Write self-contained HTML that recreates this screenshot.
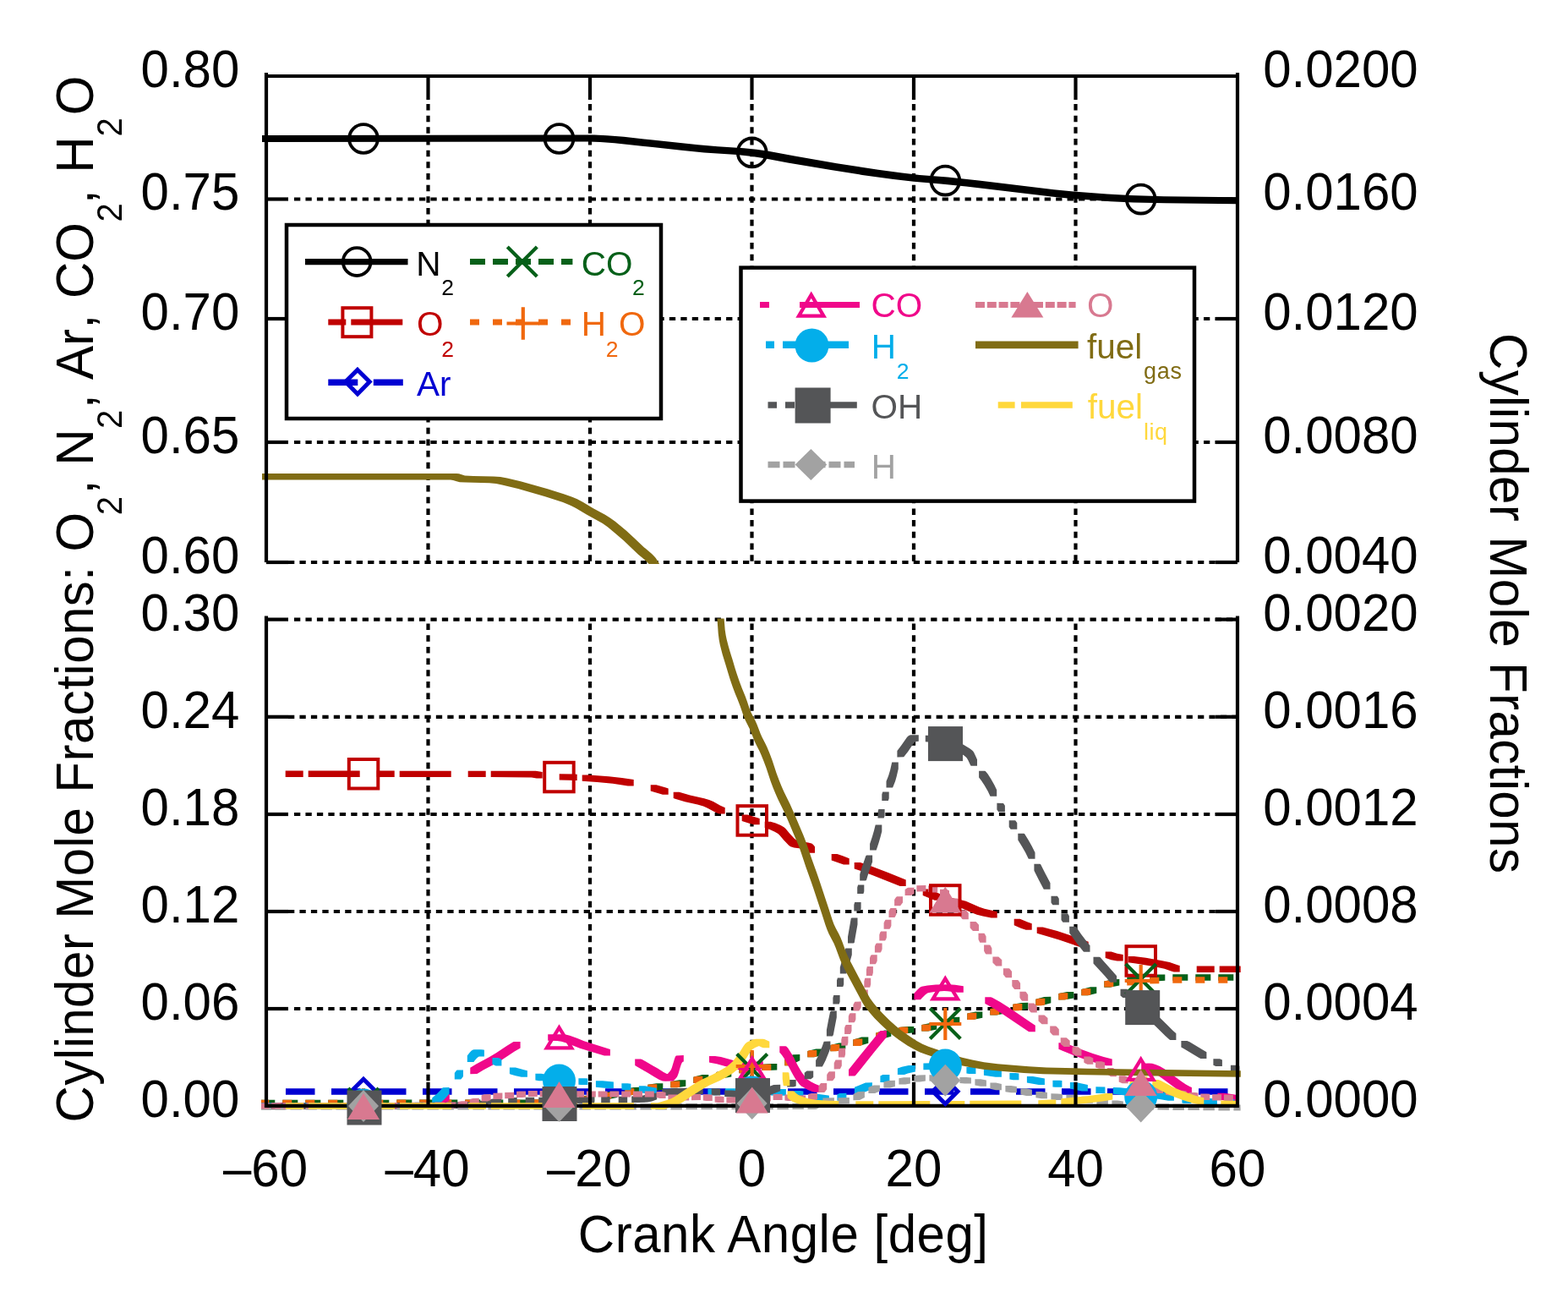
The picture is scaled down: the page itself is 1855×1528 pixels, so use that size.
<!DOCTYPE html><html><head><meta charset="utf-8"><title>Cylinder Mole Fractions</title><style>html,body{margin:0;padding:0;background:#fff;overflow:hidden}svg{display:block}</style></head><body><svg width="1855" height="1528" viewBox="0 0 1855 1528" font-family="'Liberation Sans', Arial, Helvetica, sans-serif">
<rect width="1855" height="1528" fill="#fff"/>
<defs><clipPath id="ctop"><rect x="310.0" y="90.0" width="1154.0" height="577.0"/></clipPath><clipPath id="cbot"><rect x="309.0" y="731.6" width="1161.0" height="587.1999999999999"/></clipPath></defs>
<line x1="348" y1="235.5" x2="1462.0" y2="235.5" stroke="#000" stroke-width="4.2" stroke-dasharray="7.3 6.15"/>
<line x1="348" y1="377.0" x2="1462.0" y2="377.0" stroke="#000" stroke-width="4.2" stroke-dasharray="7.3 6.15"/>
<line x1="348" y1="523.0" x2="1462.0" y2="523.0" stroke="#000" stroke-width="4.2" stroke-dasharray="7.3 6.15"/>
<line x1="341" y1="665.0" x2="1462.0" y2="665.0" stroke="#000" stroke-width="4.2" stroke-dasharray="7.3 6.15"/>
<line x1="348" y1="732.6" x2="1462.0" y2="732.6" stroke="#000" stroke-width="4.2" stroke-dasharray="7.3 6.15"/>
<line x1="341" y1="847.8" x2="1462.0" y2="847.8" stroke="#000" stroke-width="4.2" stroke-dasharray="7.3 6.15"/>
<line x1="348" y1="963.0" x2="1462.0" y2="963.0" stroke="#000" stroke-width="4.2" stroke-dasharray="7.3 6.15"/>
<line x1="341" y1="1078.0" x2="1462.0" y2="1078.0" stroke="#000" stroke-width="4.2" stroke-dasharray="7.3 6.15"/>
<line x1="348" y1="1193.0" x2="1462.0" y2="1193.0" stroke="#000" stroke-width="4.2" stroke-dasharray="7.3 6.15"/>
<line x1="506.5" y1="123" x2="506.5" y2="665.0" stroke="#000" stroke-width="4.2" stroke-dasharray="7.5 6.17"/>
<line x1="506.5" y1="737.6" x2="506.5" y2="1279.8" stroke="#000" stroke-width="4.2" stroke-dasharray="7.5 6.17"/>
<line x1="698.0" y1="123" x2="698.0" y2="665.0" stroke="#000" stroke-width="4.2" stroke-dasharray="7.5 6.17"/>
<line x1="698.0" y1="737.6" x2="698.0" y2="1279.8" stroke="#000" stroke-width="4.2" stroke-dasharray="7.5 6.17"/>
<line x1="889.5" y1="123" x2="889.5" y2="665.0" stroke="#000" stroke-width="4.2" stroke-dasharray="7.5 6.17"/>
<line x1="889.5" y1="737.6" x2="889.5" y2="1279.8" stroke="#000" stroke-width="4.2" stroke-dasharray="7.5 6.17"/>
<line x1="1081.0" y1="123" x2="1081.0" y2="665.0" stroke="#000" stroke-width="4.2" stroke-dasharray="7.5 6.17"/>
<line x1="1081.0" y1="737.6" x2="1081.0" y2="1279.8" stroke="#000" stroke-width="4.2" stroke-dasharray="7.5 6.17"/>
<line x1="1272.5" y1="123" x2="1272.5" y2="665.0" stroke="#000" stroke-width="4.2" stroke-dasharray="7.5 6.17"/>
<line x1="1272.5" y1="737.6" x2="1272.5" y2="1279.8" stroke="#000" stroke-width="4.2" stroke-dasharray="7.5 6.17"/>
<path d="M307.1,160.1 661,159.6 703,159.6 718,160.2 738,161.8 772,165.5 826,171.3 849,173.2 880,175.3 895,176.7 909,178.8 940,184.6 990,193.2 1039,200.7 1067,204.6 1088,206.9 1121,209.6 1158,213.6 1246.9,224.2 1269.9,226.6 1309.9,229.6 1336.9,231.1 1376.9,232.2 1467.9,233.4 1467.9,241.2 1378.9,240.2 1340.9,239.4 1313.9,238.2 1267.9,234.9 1243.9,232.6 1143,220.6 1113,217.4 1081,214.8 1057,212.1 1020,206.9 983,201.1 932,192.4 903,186.9 890,184.9 872,183.1 833,180.4 806,177.8 772,174 727,169.3 710,167.9 696,167.4 315.1,167.9 307.1,167.9Z" fill="#000000" clip-path="url(#ctop)"/>
<path d="M337.7,911.6 358.7,911.6 358.7,919 337.7,919ZM364.7,911.6 425.7,911.6 425.7,919 364.7,919ZM445.7,911.6 466.7,911.6 466.7,919 445.7,919ZM472.7,911.7 533.7,911.7 533.7,919.1 472.7,919.1ZM553.7,911.7 574.7,911.7 574.7,919.1 553.7,919.1ZM580.7,911.7 633.8,911.8 638.7,912.4 641.7,913 641.7,920.4 634.8,920.4 628.9,919.4 580.7,919.1ZM661.7,915.2 679.8,915.6 682.7,915.7 682.7,923.1 661.7,922.6ZM688.7,916.4 696.6,916.5 720.2,918.2 735.9,919.9 749.7,922 749.7,929.4 742.8,929.4 725.1,926.8 706.4,925 688.7,923.8ZM769.7,928.2 776.4,928.2 786.9,931.2 790.7,932.4 790.7,939.8 784,939.8 769.7,935.6ZM796.7,936.7 803.6,936.7 816.4,940.5 833.1,944.2 839,945.9 843.9,948.1 851.8,952.5 856.7,954.7 857.7,955 857.7,962.4 850.8,962.4 846.9,961.1 836.1,955.3 832.1,953.5 825.2,951.5 810.5,948.3 798.7,944.7 796.7,944.1ZM877.7,963.5 884.4,963.5 898.7,967.9 898.7,975.3 892,975.3 886.3,973.8 877.7,970.9ZM904.7,971.7 911.6,971.7 917.6,973.5 923.5,976.1 927.4,978.3 929.4,980.1 934.4,985.9 939.3,991.2 941.3,993 943.3,994 948.2,995.3 956.1,996.5 960.1,997.6 961,998.1 963,1000.1 964,1001.4 964,1008.8 957.1,1008.8 956.1,1008.1 954.1,1005.9 952.2,1004.8 947.2,1003.6 939.3,1002.4 935.3,1001.2 933.4,1000 927.4,993.8 922.5,988 920.5,986.1 916.6,983.7 910.6,981.1 904.7,979.1ZM983.7,1010.1 990.4,1010.1 997.1,1012.3 1004.7,1015.2 1004.7,1022.6 998,1022.6 983.7,1017.5ZM1010.7,1020.1 1017.7,1020.1 1029.7,1024 1050.7,1032.1 1071.7,1040.5 1071.7,1047.9 1064.7,1047.9 1030.7,1034.5 1017.7,1029.8 1010.7,1027.5ZM1091.7,1051.5 1098.7,1051.5 1105.7,1054.3 1112.7,1057.4 1112.7,1064.8 1105.7,1064.8 1091.7,1058.9ZM1118.7,1062 1125.7,1062 1136.7,1064.2 1142.7,1065.8 1158.7,1072.7 1164.7,1074.8 1175.7,1077.3 1179.7,1078.1 1179.7,1085.5 1172.7,1085.5 1162.7,1083.5 1155.7,1081.7 1148.7,1079 1138.7,1074.6 1133.7,1072.7 1124.7,1070.6 1118.7,1069.4ZM1199.7,1086.8 1206.7,1086.8 1215.7,1090.6 1220.7,1092.3 1220.7,1099.7 1213.7,1099.7 1207.7,1097.7 1199.7,1094.2ZM1226.7,1096.4 1233.7,1096.4 1250.7,1101.1 1271.7,1108 1287.7,1113.7 1287.7,1121.1 1280.7,1121.1 1253.7,1111.8 1238.7,1107.2 1226.7,1103.8ZM1307.7,1125.5 1314.7,1125.5 1321.7,1127.7 1328.7,1129.1 1328.7,1136.5 1321.7,1136.5 1314.7,1135.2 1308.7,1133.3 1307.7,1132.9ZM1334.7,1130.9 1341.7,1130.9 1355.7,1132.8 1373.7,1135.9 1383.7,1138 1393.7,1141.4 1395.7,1142 1395.7,1149.4 1388.7,1149.4 1384.7,1148.3 1377.7,1145.7 1364.7,1143 1343.7,1139.5 1334.7,1138.3ZM1415.7,1142.5 1436.7,1142.5 1436.7,1149.9 1415.7,1149.9ZM1442.7,1142.5 1467.7,1142.5 1467.7,1149.9 1442.7,1149.9Z" fill="#c00000" clip-path="url(#cbot)"/>
<path d="M338,1287.2 372.5,1287.2 372.5,1294.8 338,1294.8ZM392,1287.2 426.5,1287.2 426.5,1294.8 392,1294.8ZM446,1287.2 480.5,1287.2 480.5,1294.8 446,1294.8ZM500,1287.2 534.5,1287.2 534.5,1294.8 500,1294.8ZM554,1287.2 588.5,1287.2 588.5,1294.8 554,1294.8ZM608,1287.2 642.5,1287.2 642.5,1294.8 608,1294.8ZM662,1287.2 696.5,1287.2 696.5,1294.8 662,1294.8ZM716,1287.2 750.5,1287.2 750.5,1294.8 716,1294.8ZM770,1287.2 804.5,1287.2 804.5,1294.8 770,1294.8ZM824,1287.2 858.5,1287.2 858.5,1294.8 824,1294.8ZM878,1287.2 912.5,1287.2 912.5,1294.8 878,1294.8ZM932,1287.2 966.5,1287.2 966.5,1294.8 932,1294.8ZM986,1287.2 1020.5,1287.2 1020.5,1294.8 986,1294.8ZM1040,1287.2 1074.5,1287.2 1074.5,1294.8 1040,1294.8ZM1094,1287.2 1128.5,1287.2 1128.5,1294.8 1094,1294.8ZM1148,1287.2 1182.5,1287.2 1182.5,1294.8 1148,1294.8ZM1202,1287.2 1236.5,1287.2 1236.5,1294.8 1202,1294.8ZM1256,1287.2 1290.5,1287.2 1290.5,1294.8 1256,1294.8ZM1310,1287.2 1344.5,1287.2 1344.5,1294.8 1310,1294.8ZM1364,1287.2 1398.5,1287.2 1398.5,1294.8 1364,1294.8ZM1418,1287.2 1452.5,1287.2 1452.5,1294.8 1418,1294.8Z" fill="#0000d2" clip-path="url(#cbot)"/>
<path d="M307.3,1300.8 325.3,1300.8 325.3,1308.2 307.3,1308.2ZM334.3,1300.8 352.3,1300.8 352.3,1308.2 334.3,1308.2ZM361.3,1300.7 379.3,1300.7 379.3,1308.1 361.3,1308.1ZM388.3,1300.7 406.3,1300.7 406.3,1308.1 388.3,1308.1ZM415.3,1300.7 433.3,1300.7 433.3,1308.1 415.3,1308.1ZM442.3,1300.7 460.3,1300.7 460.3,1308.1 442.3,1308.1ZM469.3,1300.6 487.3,1300.6 487.3,1308 469.3,1308ZM496.3,1300.6 514.3,1300.6 514.3,1308 496.3,1308ZM523.3,1300.6 541.3,1300.6 541.3,1308 523.3,1308ZM550.3,1300.5 568.3,1300.5 568.3,1307.9 550.3,1307.9ZM577.3,1300.5 595.3,1300.5 595.3,1307.9 577.3,1307.9ZM604.3,1300.4 622.3,1300.4 622.3,1307.8 604.3,1307.8ZM631.3,1300.3 649.3,1300.2 649.3,1307.6 631.3,1307.7ZM658.3,1299.4 668.7,1298.4 676.3,1298.4 676.3,1305.8 665.9,1306.7 658.3,1306.8ZM685.3,1296.6 695.7,1295.4 703.3,1295.3 703.3,1302.7 692.9,1304 685.3,1304ZM712.3,1292.6 722.7,1290.7 730.3,1290.6 730.3,1298 719.9,1299.9 712.3,1300ZM739.3,1287.8 749.7,1285.9 757.3,1285.8 757.3,1293.2 746.9,1295.2 739.3,1295.2ZM766.3,1282.8 776.7,1281.3 784.3,1281.3 784.3,1288.7 773.9,1290.2 766.3,1290.2ZM793.3,1278.9 803.7,1277.3 811.3,1277.3 811.3,1284.7 800.9,1286.3 793.3,1286.3ZM820.3,1273.7 830.7,1271 838.3,1270.9 838.3,1278.3 827.9,1281 820.3,1281.1ZM847.3,1267.9 857.7,1266 865.3,1266 865.3,1273.4 854.9,1275.3 847.3,1275.3ZM874.3,1261.9 881.9,1260.3 885.7,1259.8 892.3,1259.8 892.3,1267.2 883.8,1268.8 880.9,1269.3 874.3,1269.3ZM901.3,1258.7 912.3,1258 919.3,1258 919.3,1265.4 908.3,1266.1 901.3,1266.1ZM928.3,1252.9 934.3,1249.1 938.3,1247.2 946.3,1246.9 946.3,1254.3 942.3,1256.2 936.3,1259.9 935.3,1260.3 928.3,1260.3ZM955.3,1242.9 965.3,1240.5 973.3,1240.4 973.3,1247.8 963.3,1250.2 955.3,1250.3ZM982.3,1235.9 992.3,1233.4 1000.3,1233.2 1000.3,1240.6 990.3,1243.1 982.3,1243.3ZM1009.3,1229.5 1019.3,1226.6 1027.3,1226.4 1027.3,1233.8 1017.3,1236.7 1009.3,1236.9ZM1036.3,1221.4 1046.3,1218.6 1054.3,1218.4 1054.3,1225.8 1044.3,1228.6 1036.3,1228.8ZM1063.3,1215 1073.3,1214 1081.3,1213.9 1081.3,1221.3 1070.3,1222.4 1063.3,1222.4ZM1090.3,1212.1 1100.3,1210.1 1108.3,1210 1108.3,1217.4 1098.3,1219.4 1090.3,1219.5ZM1117.3,1205.9 1127.3,1202.9 1135.3,1202.7 1135.3,1210.1 1125.3,1213.2 1117.3,1213.3ZM1144.3,1198.5 1154.3,1196.5 1162.3,1196.4 1162.3,1203.8 1152.3,1205.7 1144.3,1205.9ZM1171.3,1193.1 1181.3,1191.1 1189.3,1191 1189.3,1198.4 1179.3,1200.4 1171.3,1200.5ZM1198.3,1187.8 1208.3,1185.9 1216.3,1185.8 1216.3,1193.2 1206.3,1195.1 1198.3,1195.2ZM1225.3,1181.8 1235.3,1179 1243.3,1178.8 1243.3,1186.2 1233.3,1189 1225.3,1189.2ZM1252.3,1175 1262.3,1173.1 1270.3,1173 1270.3,1180.4 1260.3,1182.2 1252.3,1182.4ZM1279.3,1169.9 1288.3,1167.8 1290.3,1167.3 1297.3,1167.3 1297.3,1174.7 1287.3,1177.2 1279.3,1177.3ZM1306.3,1160.4 1316.3,1158.2 1324.3,1158.1 1324.3,1165.5 1315.3,1167.3 1313.3,1167.8 1306.3,1167.8ZM1333.3,1155.6 1343.3,1154.6 1351.3,1154.5 1351.3,1161.9 1340.3,1163 1333.3,1163ZM1360.3,1153 1370.3,1152.4 1378.3,1152.4 1378.3,1159.8 1367.3,1160.4 1360.3,1160.4ZM1387.3,1152.3 1405.3,1152.3 1405.3,1159.7 1387.3,1159.7ZM1414.3,1152.3 1432.3,1152.3 1432.3,1159.7 1414.3,1159.7ZM1441.3,1152.3 1459.3,1152.3 1459.3,1159.7 1441.3,1159.7Z" fill="#066019" clip-path="url(#cbot)"/>
<path d="M307.3,1300.8 318.3,1300.8 318.3,1308.2 307.3,1308.2ZM334.3,1300.8 345.3,1300.8 345.3,1308.2 334.3,1308.2ZM361.3,1300.7 372.3,1300.7 372.3,1308.1 361.3,1308.1ZM388.3,1300.7 399.3,1300.7 399.3,1308.1 388.3,1308.1ZM415.3,1300.7 426.3,1300.7 426.3,1308.1 415.3,1308.1ZM442.3,1300.7 453.3,1300.7 453.3,1308.1 442.3,1308.1ZM469.3,1300.6 480.3,1300.6 480.3,1308 469.3,1308ZM496.3,1300.6 507.3,1300.6 507.3,1308 496.3,1308ZM523.3,1300.6 534.3,1300.6 534.3,1308 523.3,1308ZM550.3,1300.5 561.3,1300.5 561.3,1307.9 550.3,1307.9ZM577.3,1300.5 588.3,1300.5 588.3,1307.9 577.3,1307.9ZM604.3,1300.4 615.3,1300.4 615.3,1307.8 604.3,1307.8ZM631.3,1300.3 642.3,1300.3 642.3,1307.7 631.3,1307.7ZM658.3,1299.4 669.3,1299.1 669.3,1306.5 658.3,1306.8ZM685.3,1296.6 689,1296.2 696.3,1296.2 696.3,1303.6 692.6,1304 685.3,1304ZM712.3,1292.6 716,1291.9 723.3,1291.9 723.3,1299.3 719.6,1300 712.3,1300ZM739.3,1287.8 743,1287.2 750.3,1287.2 750.3,1294.6 746.6,1295.2 739.3,1295.2ZM766.3,1282.8 770,1282.3 777.3,1282.3 777.3,1289.7 773.6,1290.2 766.3,1290.2ZM793.3,1278.9 797,1278.4 804.3,1278.4 804.3,1285.8 800.6,1286.3 793.3,1286.3ZM820.3,1273.7 824,1272.7 831.3,1272.7 831.3,1280.1 827.6,1281.1 820.3,1281.1ZM847.3,1267.9 851,1267.3 858.3,1267.3 858.3,1274.7 854.6,1275.3 847.3,1275.3ZM874.3,1261.9 878,1261 885.3,1261 885.3,1268.4 881.6,1269.3 874.3,1269.3ZM901.3,1258.7 912.3,1258.5 912.3,1265.9 901.3,1266.1ZM928.3,1252.9 932,1250.6 939.3,1250.6 939.3,1258 935.6,1260.3 928.3,1260.3ZM955.3,1242.9 959,1242.1 966.3,1242.1 966.3,1249.5 962.6,1250.3 955.3,1250.3ZM982.3,1235.9 986,1234.9 993.3,1234.9 993.3,1242.3 989.6,1243.3 982.3,1243.3ZM1009.3,1229.5 1013,1228.5 1020.3,1228.5 1020.3,1235.9 1016.6,1236.9 1009.3,1236.9ZM1036.3,1221.4 1040.3,1220.4 1047.3,1220.4 1047.3,1227.8 1043.3,1228.8 1036.3,1228.8ZM1063.3,1215 1067.3,1214.6 1074.3,1214.6 1074.3,1222 1070.3,1222.4 1063.3,1222.4ZM1090.3,1212.1 1094.3,1211.4 1101.3,1211.4 1101.3,1218.8 1097.3,1219.5 1090.3,1219.5ZM1117.3,1205.9 1121.3,1204.9 1128.3,1204.9 1128.3,1212.3 1125.3,1213.2 1117.3,1213.3ZM1144.3,1198.5 1148.3,1197.7 1155.3,1197.7 1155.3,1205.1 1151.3,1205.9 1144.3,1205.9ZM1171.3,1193.1 1175.3,1192.4 1182.3,1192.4 1182.3,1199.8 1178.3,1200.5 1171.3,1200.5ZM1198.3,1187.8 1202.3,1187.1 1209.3,1187.1 1209.3,1194.5 1205.3,1195.2 1198.3,1195.2ZM1225.3,1181.8 1229.3,1180.8 1236.3,1180.8 1236.3,1188.2 1232.3,1189.2 1225.3,1189.2ZM1252.3,1175 1256.3,1174.2 1263.3,1174.2 1263.3,1181.6 1259.3,1182.4 1252.3,1182.4ZM1279.3,1169.9 1283.3,1169.1 1290.3,1169.1 1290.3,1176.5 1286.3,1177.3 1279.3,1177.3ZM1306.3,1160.2 1310.3,1159.7 1317.3,1159.7 1317.3,1167.1 1313.3,1167.6 1306.3,1167.6ZM1333.3,1158 1344.3,1157.8 1344.3,1165.2 1333.3,1165.4ZM1360.3,1156.1 1371.3,1155.8 1371.3,1163.2 1360.3,1163.5ZM1387.3,1155.3 1398.3,1155.3 1398.3,1162.7 1387.3,1162.7ZM1414.3,1155.3 1425.3,1155.3 1425.3,1162.7 1414.3,1162.7ZM1441.3,1155.3 1452.3,1155.3 1452.3,1162.7 1441.3,1162.7Z" fill="#f0680e" clip-path="url(#cbot)"/>
<path d="M311.2,1304.2 380.8,1304.2 380.8,1311.8 311.2,1311.8ZM415.2,1304.2 484.8,1304.2 484.8,1311.8 415.2,1311.8ZM519.2,1297.5 523.1,1294.9 524,1294.1 531.8,1294 531.8,1301.6 527,1305 519.2,1305.1ZM556.3,1262.7 563.3,1258.4 579.1,1250 587,1245.2 599.8,1236.7 606.7,1232.6 607.7,1232.1 615.6,1231.9 615.6,1239.5 608.7,1243.5 592.9,1253.9 585,1258.5 572.2,1265.3 565.2,1269.4 564.3,1270 556.3,1270.3ZM648.2,1223.2 665.1,1223.2 669.1,1223.6 674.1,1224.8 683.1,1228.1 691,1231.3 721.9,1240.9 721.9,1248.5 714.9,1248.5 686,1239.7 670.1,1233.6 664.1,1231.7 659.2,1230.9 648.2,1230.8ZM751.2,1252.5 758.2,1252.5 760.1,1253.2 772.1,1260.3 778,1263.6 785,1267.9 788.9,1269.9 789.9,1269.9 792.9,1266.6 793.9,1265 794.9,1262.4 797.9,1252.4 798.9,1249.8 799.9,1248.4 808.8,1248 808.8,1255.6 807.8,1255.8 806.8,1256.8 805.8,1259 804.8,1262.1 802.8,1268.9 801.8,1271.8 800.9,1273.7 797.9,1277.2 795.9,1278.6 787,1278.8 784,1278.4 780,1276.9 774,1273.5 767.1,1269.3 753.2,1261.2 751.2,1260.1ZM839,1248.9 846,1248.9 853,1250.1 872.9,1255.5 886.9,1258.6 887.8,1258.7 890.8,1257.7 894.8,1255.5 902.8,1255.2 902.8,1262.8 898.8,1265.2 895.8,1266.3 892.8,1266.8 883.9,1266.8 877.9,1265.9 865.9,1263.3 848,1258.3 840,1256.7 839,1256.5ZM922.3,1237.2 929.2,1237.2 930.2,1237.5 932.2,1239.6 934.1,1242.4 937.1,1247.3 944,1260.4 946.9,1265.6 948.9,1268.7 952.8,1273.9 954.8,1276.2 959.7,1279.4 964.6,1282 969.5,1283.9 970.5,1284.2 970.5,1291.8 963.6,1291.8 960.7,1291.1 955.8,1289 949.9,1285.6 947.9,1284.4 945.9,1282.4 941,1275.9 938.1,1271.1 930.2,1256.2 927.2,1251.1 925.3,1248.2 923.3,1245.8 922.3,1244.8ZM1004,1264.9 1033.9,1227.9 1040.9,1219.5 1041.9,1219 1048.9,1219 1048.9,1226.6 1034.9,1243.6 1017,1266 1012,1272 1011,1272.5 1004,1272.5ZM1081.4,1174.7 1085.4,1170.4 1088.3,1167.8 1090.3,1166.7 1097.2,1165.4 1107.1,1164.4 1122,1164.2 1129.9,1164.7 1139.8,1166.2 1139.8,1173.8 1132.9,1173.8 1121,1172.2 1117,1171.9 1107.1,1172.7 1099.2,1173.9 1097.2,1174.6 1094.3,1176.8 1090.3,1180.8 1089.3,1181.9 1088.3,1182.3 1081.4,1182.3ZM1165.3,1179.3 1172.3,1179.3 1174.2,1180 1183.2,1185 1195,1192.6 1218.8,1208.8 1224.8,1212.7 1224.8,1220.3 1217.8,1220.3 1216.8,1220.1 1187.1,1200 1176.2,1193 1167.3,1187.9 1165.3,1186.9ZM1252.4,1233.2 1259.3,1233.2 1279.1,1241.1 1292.9,1246 1305.8,1250 1315.7,1252.6 1315.7,1260.2 1308.8,1260.2 1298.9,1257.8 1285,1253.5 1271.2,1248.6 1256.4,1242.5 1252.4,1240.8ZM1350.2,1257.8 1359.1,1257.5 1363.1,1257.8 1367.1,1258.9 1372.1,1261 1378.1,1264.6 1387,1271 1397,1278.5 1402.9,1282.5 1407.9,1285.3 1409.9,1286.1 1409.9,1293.7 1402.9,1293.7 1399.9,1292.7 1395,1289.9 1388,1285.1 1375.1,1275.4 1369.1,1271.3 1364.1,1268.5 1359.1,1266.4 1355.2,1265.4 1350.2,1265.4ZM1440.4,1292.7 1448.1,1292.7 1460.7,1294.6 1463.6,1295.2 1463.6,1302.8 1455.9,1302.8 1444.2,1300.8 1440.4,1300.3Z" fill="#f0078a" clip-path="url(#cbot)"/>
<path d="M307.2,1304.2 328.2,1304.2 328.2,1311.8 307.2,1311.8ZM337.7,1304.1 348.7,1304.1 348.7,1311.7 337.7,1311.7ZM358.2,1304.1 379.2,1304.1 379.2,1311.7 358.2,1311.7ZM388.7,1304.1 399.7,1304.1 399.7,1311.7 388.7,1311.7ZM409.2,1304.1 430.2,1304 430.2,1311.6 409.2,1311.7ZM439.7,1304 450.7,1304 450.7,1311.6 439.7,1311.6ZM460.2,1303.9 481.2,1303.9 481.2,1311.5 460.2,1311.5ZM490.7,1303.8 501.7,1303.7 501.7,1311.3 490.7,1311.4ZM511.2,1298.5 517,1293.5 520.9,1289.6 523.8,1286.2 531.6,1286 531.6,1293.6 527.7,1298.1 524.8,1301 519,1305.9 511.2,1306.1ZM537.8,1268.9 539.6,1266.5 540.6,1265.5 548,1265.5 548,1273.1 546.2,1275.5 545.2,1276.5 537.8,1276.5ZM552.8,1248.4 555.7,1244.7 557.6,1242.8 559.5,1241.6 561.4,1241.2 569.1,1241.2 571.9,1241.6 572.9,1241.8 572.9,1249.4 567.1,1249.4 566.2,1249.7 564.3,1251.2 561.4,1254.6 560.5,1256 552.8,1256ZM582.4,1251 589.4,1251 591.4,1251.7 593.4,1252.9 593.4,1260.5 586.4,1260.5 582.4,1258.6ZM602.9,1262.5 609.9,1262.5 619.9,1265.3 623.9,1266.2 623.9,1273.8 616.9,1273.8 609.9,1272.3 603.9,1270.5 602.9,1270.1ZM633.4,1269.8 640.4,1269.8 644.4,1270.6 644.4,1278.2 637.4,1278.2 633.4,1277.4ZM653.9,1273.8 661.9,1273.9 674.9,1274.6 674.9,1282.2 662.9,1282 654.9,1281.5 653.9,1281.4ZM684.4,1275.2 692.4,1275.2 695.4,1275.5 695.4,1283.1 687.4,1283.1 684.4,1282.8ZM704.9,1278.2 712.9,1278.2 725.9,1279.5 725.9,1287.1 717.9,1287 704.9,1285.8ZM735.4,1281.2 742.4,1281.2 746.4,1281.7 746.4,1289.3 739.4,1289.3 735.4,1288.8ZM755.9,1284.3 762.9,1284.3 776.9,1286.7 776.9,1294.3 769.9,1294.3 755.9,1291.9ZM786.4,1287.7 797.4,1287.8 797.4,1295.4 786.4,1295.3ZM806.9,1288.1 827.9,1288.2 827.9,1295.8 806.9,1295.7ZM837.4,1287.7 848.4,1287.6 848.4,1295.2 837.4,1295.3ZM857.9,1287.2 878.9,1287.3 878.9,1294.9 857.9,1294.8ZM888.4,1287.6 899.4,1287.6 899.4,1295.2 888.4,1295.2ZM908.9,1287.9 929.9,1288.1 929.9,1295.7 908.9,1295.5ZM939.4,1289.9 946.4,1289.9 950.4,1290.6 950.4,1298.2 943.4,1298.2 939.4,1297.5ZM959.9,1293.7 966.9,1293.7 979.9,1295.6 980.9,1295.7 980.9,1303.3 972.9,1303.3 959.9,1301.3ZM990.4,1294.2 993.4,1292.9 1001.4,1292.8 1001.4,1300.4 998.4,1301.6 990.4,1301.8ZM1010.9,1285.8 1023.9,1280.5 1031.9,1280.3 1031.9,1287.9 1018.9,1293.2 1010.9,1293.4ZM1041.4,1272.5 1044.4,1271.1 1052.4,1270.9 1052.4,1278.5 1049.4,1279.9 1041.4,1280.1ZM1061.9,1263.5 1066.9,1261.8 1074.9,1260 1082.9,1259.9 1082.9,1267.5 1073.9,1269.6 1069.9,1270.9 1061.9,1271.1ZM1092.4,1257.6 1103.4,1257.3 1103.4,1264.9 1092.4,1265.2ZM1112.9,1256.2 1123.9,1256.2 1128.9,1256.8 1133.9,1258 1133.9,1265.6 1126.9,1265.6 1119.9,1264.2 1115.9,1263.8 1112.9,1263.8ZM1143.4,1262 1150.4,1262 1154.4,1262.4 1154.4,1270 1146.4,1269.9 1143.4,1269.6ZM1163.9,1264.2 1170.9,1264.2 1184.9,1266.1 1184.9,1273.7 1177.9,1273.7 1163.9,1271.8ZM1194.4,1268.9 1201.4,1268.9 1205.4,1269.6 1205.4,1277.2 1198.4,1277.2 1194.4,1276.5ZM1214.9,1273 1221.9,1273 1235.9,1275.5 1235.9,1283.1 1228.9,1283.1 1214.9,1280.6ZM1245.4,1277.8 1253.4,1277.8 1256.4,1278.1 1256.4,1285.7 1248.4,1285.7 1245.4,1285.4ZM1265.9,1279.9 1272.9,1279.9 1286.9,1283 1286.9,1290.6 1279.9,1290.6 1265.9,1287.5ZM1296.4,1285.3 1307.4,1285.5 1307.4,1293.1 1297.4,1293 1296.4,1292.9ZM1316.9,1286.1 1324.9,1286.2 1333.9,1287.2 1337.9,1287.8 1337.9,1295.4 1330.9,1295.4 1319.9,1294 1316.9,1293.7ZM1347.4,1290.3 1355.4,1290.4 1358.4,1290.6 1358.4,1298.2 1350.4,1298.2 1347.4,1297.9ZM1367.9,1292 1375.9,1292 1383.9,1293.1 1388.9,1294.1 1388.9,1301.7 1381.9,1301.7 1371.9,1300 1367.9,1299.6ZM1398.4,1297 1406.4,1297.1 1409.4,1297.4 1409.4,1305 1401.4,1305 1398.4,1304.6ZM1418.9,1298.8 1426.9,1298.8 1439.9,1299.4 1439.9,1307 1426.9,1306.8 1418.9,1306.4ZM1449.4,1299.9 1460.4,1300 1460.4,1307.6 1449.4,1307.5Z" fill="#03aeea" clip-path="url(#cbot)"/>
<path d="M307.2,1304.7 337.2,1304.6 337.2,1312.2 307.2,1312.3ZM343.2,1304.5 373.2,1304.4 373.2,1312 343.2,1312.1ZM381.2,1304.4 391.7,1304.4 391.7,1312 381.2,1312ZM401.7,1304.3 412.2,1304.3 412.2,1311.9 401.7,1311.9ZM417.2,1304.3 447.2,1304.2 447.2,1311.8 417.2,1311.9ZM453.2,1304.1 483.2,1304 483.2,1311.6 453.2,1311.7ZM491.2,1303.9 501.7,1303.9 501.7,1311.5 491.2,1311.5ZM511.7,1303.7 522.2,1303.7 522.2,1311.3 511.7,1311.3ZM527.2,1303.6 557.2,1303.3 557.2,1310.9 527.2,1311.2ZM563.2,1302.7 585.2,1299.2 593.2,1299.2 593.2,1306.8 575.2,1309.8 570.2,1310.3 563.2,1310.3ZM601.2,1298.1 611.7,1298 611.7,1305.6 601.2,1305.7ZM621.7,1297.8 632.2,1297.8 632.2,1305.4 621.7,1305.4ZM637.2,1297.7 667.2,1297.5 667.2,1305.1 637.2,1305.3ZM673.2,1297.4 703.2,1297.2 703.2,1304.8 673.2,1305ZM711.2,1297 721.7,1297 721.7,1304.6 711.2,1304.6ZM731.7,1296.8 742.2,1296.7 742.2,1304.3 731.7,1304.4ZM747.2,1296.5 757.2,1296.1 761.2,1295.5 767.2,1293.6 769.2,1292.8 777.2,1292.7 777.2,1300.3 771.2,1302.4 766.2,1303.6 755.2,1304.1 747.2,1304.1ZM783.2,1288.1 799.2,1287 813.2,1286.7 813.2,1294.3 794.2,1295.3 790.2,1295.7 783.2,1295.7ZM821.2,1286.3 831.7,1286.3 831.7,1293.9 821.2,1293.9ZM841.7,1287.3 849.3,1287.3 852.2,1287.8 852.2,1295.4 844.6,1295.4 841.7,1294.9ZM857.2,1289.5 865.2,1289.6 882.2,1290.8 887.2,1291.1 887.2,1298.7 877.2,1298.6 857.2,1297.1ZM893.2,1290.5 899.2,1288.9 915.2,1282.9 923.2,1282.7 923.2,1290.3 909.2,1295.7 903.2,1297.6 900.2,1298.1 893.2,1298.1ZM931.2,1277.8 934.1,1276.9 941.7,1276.9 941.7,1284.5 938.8,1285.4 931.2,1285.4ZM951.7,1268.7 954.6,1266.5 962.2,1266.5 962.2,1274.1 959.3,1276.3 951.7,1276.3ZM965.1,1254 967.1,1250.6 969.9,1244.2 972.8,1237.3 974.7,1231.8 982.4,1231.6 982.4,1239.2 980.5,1244.7 976.7,1253.9 974.7,1258 972.8,1261.5 965.1,1261.6ZM977.9,1218 979.9,1207.3 981.9,1197.4 982.9,1195.6 989.8,1195.6 989.8,1203.2 986.9,1218.3 985.9,1223.7 984.9,1225.6 977.9,1225.6ZM985.4,1180 986.3,1177.1 993.6,1177.1 993.6,1184.7 992.7,1187.6 985.4,1187.6ZM990,1159.5 990.9,1156.6 998.2,1156.6 998.2,1164.2 997.3,1167.1 990,1167.1ZM993.8,1144 998.5,1128.1 1000.3,1121.6 1007.8,1121.6 1007.8,1129.2 1005.9,1136.1 1002.2,1148.7 1001.3,1151.6 993.8,1151.6ZM1003,1108 1005.9,1091.3 1006.8,1086 1007.8,1085.6 1014.5,1085.6 1014.5,1093.2 1012.6,1104 1010.7,1115.1 1009.7,1115.6 1003,1115.6ZM1010.3,1070 1011.2,1067.1 1018.6,1067.1 1018.6,1074.7 1017.6,1077.6 1010.3,1077.6ZM1014.2,1049.5 1015.1,1046.6 1022.3,1046.6 1022.3,1054.2 1021.4,1057.1 1014.2,1057.1ZM1017.2,1034 1019.2,1027.1 1024.2,1012.6 1025.1,1011.6 1032.1,1011.6 1032.1,1019.2 1027.1,1033.7 1025.1,1040.4 1024.2,1041.6 1017.2,1041.6ZM1029.1,998 1031.9,989.5 1033.8,983 1035.7,975.6 1043.3,975.6 1043.3,983.2 1041.4,990.6 1039.5,997 1036.7,1005.6 1029.1,1005.6ZM1038.5,960 1039.4,957.1 1046.6,957.1 1046.6,964.7 1045.7,967.6 1038.5,967.6ZM1043.3,939.5 1044.2,936.6 1051.7,936.6 1051.7,944.2 1050.8,947.1 1043.3,947.1ZM1048.5,924 1050.4,919.2 1051.4,916.6 1052.3,913.6 1053.3,909.9 1055.2,901.6 1062.8,901.6 1062.8,909.2 1060.9,917.5 1059.9,921.2 1059,924.2 1056.1,931.6 1048.5,931.6ZM1061.4,888 1066.3,881.6 1071.2,874.4 1073.1,871.8 1075.1,869.9 1077,869.2 1086.8,869.2 1086.8,876.8 1083.9,876.9 1081.9,878.1 1080,880.3 1074.1,888.9 1069.2,895.3 1061.4,895.6ZM1094.8,869.7 1102.5,869.7 1105.3,869.9 1105.3,877.5 1097.7,877.5 1094.8,877.3ZM1115.3,872.3 1123,872.3 1125.8,873.1 1125.8,880.7 1118.2,880.7 1115.3,879.9ZM1130.8,879.8 1137.6,879.8 1138.6,879.9 1147.3,885.3 1150.2,887.6 1151.2,888.6 1152.2,890.1 1154.1,893.9 1156,898.2 1156,905.8 1149.2,905.8 1148.3,905.5 1145.4,899.2 1144.4,897.4 1143.4,896.1 1140.5,893.5 1130.8,887.4ZM1158.1,911.8 1164.8,911.8 1165.8,911.9 1168.7,915.6 1172.5,921.5 1176.3,928.2 1179.2,934.2 1179.2,941.8 1172.5,941.8 1171.5,941.7 1168.7,935.7 1164.8,929 1161,923.2 1158.1,919.4ZM1179.4,949.8 1187,949.9 1188.9,952.7 1188.9,960.3 1181.3,960.3 1179.4,957.4ZM1193.7,970.3 1200.5,970.3 1201.4,970.5 1203.3,973.2 1203.3,980.8 1196.6,980.8 1195.6,980.7 1193.7,977.9ZM1204.3,985.8 1211,985.8 1212,986 1216.8,993.7 1220.6,1000.6 1224.5,1008.2 1224.5,1015.8 1217.8,1015.8 1216.8,1015.7 1213,1008.1 1209.1,1001.2 1204.3,993.4ZM1223.4,1021.8 1230,1021.8 1231,1021.9 1235.8,1031.6 1242.5,1044.2 1242.5,1051.8 1235.8,1051.8 1234.8,1051.8 1229.1,1041 1224.3,1031.4 1223.4,1029.4ZM1243.5,1059.8 1250.9,1059.8 1252.8,1062.7 1252.8,1070.3 1245.4,1070.3 1243.5,1067.4ZM1255.5,1080.3 1263,1080.3 1264.9,1083.2 1264.9,1090.8 1257.4,1090.8 1255.5,1087.9ZM1265.2,1095.8 1272,1095.8 1273,1096.1 1278.8,1104.4 1285.6,1113.4 1289.5,1118.2 1289.5,1125.8 1282.7,1125.8 1281.8,1125.6 1274,1115.7 1268.2,1107.7 1265.2,1103.4ZM1293.5,1131.8 1300.4,1131.8 1301.4,1132.1 1316.1,1148.4 1321.1,1154.2 1321.1,1161.8 1314.2,1161.8 1313.2,1161.5 1307.3,1154.6 1293.5,1139.4ZM1325.5,1169.8 1333.1,1169.8 1336,1172.4 1336,1180 1328.4,1180 1325.5,1177.4ZM1346,1186.2 1353.6,1186.2 1356.5,1188.7 1356.5,1196.3 1348.9,1196.3 1346,1193.8ZM1361.5,1200.7 1368.5,1200.7 1369.5,1201.1 1380.5,1211.8 1387.5,1218.8 1391.4,1222.3 1391.4,1229.9 1384.5,1229.9 1383.5,1229.6 1378.5,1225.1 1361.5,1208.3ZM1397.4,1230.9 1404.4,1230.9 1407.4,1232.2 1424.4,1242.5 1427.4,1244.3 1427.4,1251.9 1420.4,1251.9 1418.4,1251.1 1401.4,1240.7 1397.4,1238.5ZM1435.4,1252.2 1443.1,1252.2 1445.9,1253.5 1445.9,1261.1 1438.3,1261.1 1435.4,1259.8ZM1455.9,1259.8 1463.6,1259.8 1466.4,1260.8 1466.4,1268.4 1458.8,1268.3 1455.9,1267.4Z" fill="#545557" clip-path="url(#cbot)"/>
<path d="M307.4,1305.4 320.9,1305.4 320.9,1312.6 307.4,1312.6ZM325.4,1305.4 338.9,1305.4 338.9,1312.6 325.4,1312.6ZM343.4,1305.4 356.9,1305.4 356.9,1312.6 343.4,1312.6ZM361.4,1305.4 374.9,1305.4 374.9,1312.6 361.4,1312.6ZM379.4,1305.4 392.9,1305.4 392.9,1312.6 379.4,1312.6ZM397.4,1305.3 410.9,1305.3 410.9,1312.5 397.4,1312.5ZM415.4,1305.3 428.9,1305.3 428.9,1312.5 415.4,1312.5ZM433.4,1305.3 446.9,1305.3 446.9,1312.5 433.4,1312.5ZM451.4,1305.3 464.9,1305.3 464.9,1312.5 451.4,1312.5ZM469.4,1305.3 482.9,1305.3 482.9,1312.5 469.4,1312.5ZM487.4,1305.3 500.9,1305.3 500.9,1312.5 487.4,1312.5ZM505.4,1305.3 518.9,1305.3 518.9,1312.5 505.4,1312.5ZM523.4,1305.3 536.9,1305.3 536.9,1312.5 523.4,1312.5ZM541.4,1305.3 554.9,1305.3 554.9,1312.5 541.4,1312.5ZM559.4,1305.3 572.9,1305.3 572.9,1312.5 559.4,1312.5ZM577.4,1305.3 590.9,1305.3 590.9,1312.5 577.4,1312.5ZM595.4,1305.3 608.9,1305.3 608.9,1312.5 595.4,1312.5ZM613.4,1305.3 626.9,1305.3 626.9,1312.5 613.4,1312.5ZM631.4,1305.3 644.9,1305.3 644.9,1312.5 631.4,1312.5ZM649.4,1305.3 662.9,1305.3 662.9,1312.5 649.4,1312.5ZM667.4,1305.3 680.9,1305.3 680.9,1312.5 667.4,1312.5ZM685.4,1305.2 698.9,1305.2 698.9,1312.4 685.4,1312.4ZM703.4,1305.2 716.9,1305.2 716.9,1312.4 703.4,1312.4ZM721.4,1305.2 734.9,1305.2 734.9,1312.4 721.4,1312.4ZM739.4,1305.2 752.9,1305.2 752.9,1312.4 739.4,1312.4ZM757.4,1305.2 770.9,1305.2 770.9,1312.4 757.4,1312.4ZM775.4,1305.2 788.9,1305.2 788.9,1312.4 775.4,1312.4ZM793.4,1305.2 806.9,1305.2 806.9,1312.4 793.4,1312.4ZM811.4,1305.1 824.9,1305.1 824.9,1312.3 811.4,1312.3ZM829.4,1305.1 842.9,1305.1 842.9,1312.3 829.4,1312.3ZM847.4,1305.1 860.9,1305.1 860.9,1312.3 847.4,1312.3ZM865.4,1305.1 878.9,1305.1 878.9,1312.3 865.4,1312.3ZM883.4,1305 896.9,1305 896.9,1312.2 883.4,1312.2ZM901.4,1305 914.9,1305 914.9,1312.2 901.4,1312.2ZM919.4,1305 932.9,1305 932.9,1312.2 919.4,1312.2ZM937.4,1304.9 950.9,1304.9 950.9,1312.1 937.4,1312.1ZM955.4,1304.9 958.3,1304.6 961.2,1303.4 968.9,1303.1 968.9,1310.3 966,1311.7 964.1,1312.1 955.4,1312.1ZM973.4,1298.4 986.9,1298.3 986.9,1305.5 973.4,1305.6ZM991.4,1298.2 1004.9,1298 1004.9,1305.2 991.4,1305.4ZM1009.4,1294.1 1015.2,1291.1 1022.9,1290.8 1022.9,1298 1017.1,1301 1009.4,1301.3ZM1027.4,1285.9 1033.2,1283.6 1040.9,1283.4 1040.9,1290.6 1035.1,1292.9 1027.4,1293.1ZM1045.4,1279.4 1051.2,1277.9 1058.9,1277.8 1058.9,1285 1053.1,1286.5 1045.4,1286.6ZM1063.4,1275.3 1069.2,1274.3 1076.9,1274.2 1076.9,1281.4 1071.1,1282.4 1063.4,1282.5ZM1081.4,1272.2 1087.2,1271.4 1094.9,1271.3 1094.9,1278.5 1088.2,1279.4 1081.4,1279.4ZM1099.4,1271.2 1107.1,1271.2 1112.9,1271.7 1112.9,1278.9 1105.2,1278.8 1099.4,1278.4ZM1117.4,1272.6 1125.1,1272.7 1130.9,1273 1130.9,1280.2 1123.2,1280.2 1117.4,1279.8ZM1135.4,1273.9 1143.1,1273.9 1148.9,1274.4 1148.9,1281.6 1141.2,1281.6 1135.4,1281.1ZM1153.4,1276.2 1160.2,1276.2 1166.9,1277.6 1166.9,1284.8 1160.2,1284.8 1153.4,1283.4ZM1171.4,1280.5 1178.2,1280.5 1184.9,1282.1 1184.9,1289.3 1178.2,1289.3 1171.4,1287.7ZM1189.4,1284.1 1196.2,1284.1 1202.9,1285 1202.9,1292.2 1196.2,1292.2 1189.4,1291.3ZM1207.4,1287.3 1214.2,1287.3 1220.9,1288.7 1220.9,1295.9 1214.2,1295.9 1207.4,1294.5ZM1225.4,1291.1 1232.2,1291.1 1238.9,1292 1238.9,1299.2 1232.2,1299.2 1225.4,1298.3ZM1243.4,1293.3 1251.1,1293.4 1256.9,1293.9 1256.9,1301.1 1249.2,1301.1 1243.4,1300.5ZM1261.4,1295 1269.1,1295.1 1274.9,1295.6 1274.9,1302.8 1267.2,1302.7 1261.4,1302.2ZM1279.4,1296.7 1286.2,1296.7 1292.9,1297.5 1292.9,1304.7 1286.2,1304.7 1279.4,1303.9ZM1297.4,1299.2 1304.2,1299.2 1310.9,1300.1 1310.9,1307.3 1304.2,1307.3 1297.4,1306.4ZM1315.4,1301.6 1322.2,1301.6 1328.9,1302.5 1328.9,1309.7 1322.2,1309.7 1315.4,1308.8ZM1333.4,1304 1340.2,1304 1346.9,1304.6 1346.9,1311.8 1339.2,1311.7 1333.4,1311.2ZM1351.4,1305 1364.9,1305.2 1364.9,1312.4 1351.4,1312.2ZM1369.4,1305.4 1382.9,1305.5 1382.9,1312.7 1369.4,1312.6ZM1387.4,1305.7 1400.9,1305.7 1400.9,1312.9 1387.4,1312.9ZM1405.4,1305.9 1418.9,1305.9 1418.9,1313.1 1405.4,1313.1ZM1423.4,1306 1436.9,1306.1 1436.9,1313.3 1423.4,1313.2ZM1441.4,1306.2 1454.9,1306.3 1454.9,1313.5 1441.4,1313.4ZM1459.4,1306.4 1467.6,1306.4 1467.6,1313.6 1459.4,1313.6Z" fill="#a2a2a2" clip-path="url(#cbot)"/>
<path d="M307.4,1304.4 318.4,1304.4 318.4,1311.6 307.4,1311.6ZM321.2,1304.3 332.2,1304.3 332.2,1311.5 321.2,1311.5ZM335,1304.3 346,1304.3 346,1311.5 335,1311.5ZM348.8,1304.3 359.8,1304.3 359.8,1311.5 348.8,1311.5ZM362.6,1304.2 373.6,1304.2 373.6,1311.4 362.6,1311.4ZM376.4,1304.2 387.4,1304.2 387.4,1311.4 376.4,1311.4ZM390.2,1304.2 401.2,1304.2 401.2,1311.4 390.2,1311.4ZM404,1304.1 415,1304.1 415,1311.3 404,1311.3ZM417.8,1304.1 428.8,1304.1 428.8,1311.3 417.8,1311.3ZM431.6,1304.1 442.6,1304.1 442.6,1311.3 431.6,1311.3ZM445.4,1304 456.4,1304 456.4,1311.2 445.4,1311.2ZM459.2,1304 470.2,1304 470.2,1311.2 459.2,1311.2ZM473,1303.9 484,1303.9 484,1311.1 473,1311.1ZM486.8,1303.8 497.8,1303.8 497.8,1311 486.8,1311ZM500.6,1303.7 511.6,1303.7 511.6,1310.9 500.6,1310.9ZM514.4,1303.6 525.4,1303.6 525.4,1310.8 514.4,1310.8ZM528.2,1303.5 539.2,1303.4 539.2,1310.6 528.2,1310.7ZM542,1303 546,1302.3 553,1302.3 553,1309.5 549,1310.2 542,1310.2ZM555.8,1299.9 559.5,1298.9 566.8,1298.8 566.8,1306 563.1,1307 555.8,1307.1ZM569.6,1295.4 572.6,1294.2 580.6,1293.9 580.6,1301.1 576.6,1302.6 569.6,1302.6ZM583.4,1292.8 594.4,1292.6 594.4,1299.8 583.4,1300ZM597.2,1292.1 608.2,1291.8 608.2,1299 597.2,1299.3ZM611,1290.8 615,1290.4 622,1290.4 622,1297.6 618,1298 611,1298ZM624.8,1289.9 635.8,1289.9 635.8,1297.1 624.8,1297.1ZM638.6,1289.9 649.6,1289.9 649.6,1297.1 638.6,1297.1ZM652.4,1289.9 663.4,1289.9 663.4,1297.1 652.4,1297.1ZM666.2,1290 677.2,1290 677.2,1297.2 666.2,1297.2ZM680,1290.2 691,1290.3 691,1297.5 680,1297.4ZM693.8,1290.4 704.8,1290.4 704.8,1297.6 693.8,1297.6ZM707.6,1290.4 718.6,1290.4 718.6,1297.6 707.6,1297.6ZM721.4,1290.4 732.4,1290.4 732.4,1297.6 721.4,1297.6ZM735.2,1290.4 746.2,1290.4 746.2,1297.6 735.2,1297.6ZM749,1290.4 760,1290.4 760,1297.6 749,1297.6ZM762.8,1290.4 773.8,1290.4 773.8,1297.6 762.8,1297.6ZM776.6,1290.9 783.6,1290.9 787.6,1291.9 787.6,1299.1 780.6,1299.1 776.6,1298.1ZM790.4,1294.4 801.4,1294.4 801.4,1301.6 790.4,1301.6ZM804.2,1294.2 815.2,1294.2 815.2,1301.4 804.2,1301.4ZM818,1294 829,1293.9 829,1301.1 818,1301.2ZM831.8,1294.2 839.1,1294.2 842.8,1294.7 842.8,1301.9 835.5,1301.9 831.8,1301.4ZM845.6,1296.4 852.6,1296.4 856.6,1296.9 856.6,1304.1 849.6,1304.1 845.6,1303.6ZM859.4,1297.4 870.4,1297.4 870.4,1304.6 859.4,1304.6ZM873.2,1297.4 884.2,1297.4 884.2,1304.6 873.2,1304.6ZM887,1297.4 898,1297.1 898,1304.3 887,1304.6ZM900.8,1295.7 904.5,1295.1 911.8,1295 911.8,1302.2 908.1,1302.8 900.8,1302.9ZM914.6,1293.9 925.6,1293.9 925.6,1301.1 914.6,1301.1ZM928.4,1294.4 935.7,1294.4 939.4,1294.7 939.4,1301.9 932.1,1301.9 928.4,1301.6ZM942.2,1295.3 953.2,1295.4 953.2,1302.6 942.2,1302.5ZM956,1294.1 960,1293 967,1293 967,1300.2 963,1301.3 956,1301.3ZM968.4,1284.8 970.4,1281.8 971.3,1281 978.2,1281 978.2,1288.2 976.2,1291.1 975.2,1292 968.4,1292ZM978.2,1271 980.1,1268 981.1,1267.2 987.9,1267.2 987.9,1274.4 985.9,1277.3 985,1278.2 978.2,1278.2ZM986.7,1257.2 988.5,1253.5 995.8,1253.4 995.8,1260.6 993.9,1264.3 986.7,1264.4ZM991.9,1243.4 992.8,1239.8 1000.1,1239.6 1000.1,1246.8 999.2,1250.4 991.9,1250.6ZM995.3,1229.6 996.2,1225.9 1003.4,1225.8 1003.4,1233 1002.5,1236.6 995.3,1236.8ZM999.1,1215.8 1000,1212.9 1001,1212 1007.5,1212 1007.5,1219.2 1006.6,1222 1005.7,1223 999.1,1223ZM1003.8,1202 1004.7,1199.4 1005.7,1198.2 1012.4,1198.2 1012.4,1205.4 1011.5,1207.9 1010.5,1209.2 1003.8,1209.2ZM1009.4,1188.2 1011.3,1184.7 1018.7,1184.4 1018.7,1191.6 1016.8,1195 1015.9,1195.4 1009.4,1195.4ZM1017.9,1174.4 1019.9,1170.6 1026.8,1170.6 1026.8,1177.8 1025.8,1180.1 1024.9,1181.6 1017.9,1181.6ZM1022.3,1160.6 1023.3,1156.8 1030.2,1156.8 1030.2,1164 1029.2,1167.8 1022.3,1167.8ZM1024.9,1146.8 1025.8,1143 1032.9,1143 1032.9,1150.2 1032,1154 1024.9,1154ZM1029,1133 1029.9,1130.5 1030.9,1129.2 1037.7,1129.2 1037.7,1136.4 1036.7,1138.7 1035.8,1140.2 1029,1140.2ZM1034.9,1119.2 1035.9,1116.8 1036.9,1115.4 1043.6,1115.4 1043.6,1122.6 1042.7,1125 1041.7,1126.4 1034.9,1126.4ZM1040.3,1105.4 1041.2,1102.8 1042.2,1101.6 1048.9,1101.6 1048.9,1108.8 1048,1111.3 1047,1112.6 1040.3,1112.6ZM1045.6,1091.6 1046.6,1089.2 1047.6,1087.8 1054.4,1087.8 1054.4,1095 1053.4,1097.3 1052.4,1098.8 1045.6,1098.8ZM1051.5,1077.8 1052.5,1075.6 1053.5,1074 1060.5,1074 1060.5,1081.2 1059.5,1083.3 1058.5,1085 1051.5,1085ZM1058.1,1064 1060.1,1061.1 1061.1,1060.2 1068,1060.2 1068,1067.4 1065.1,1071.2 1058.1,1071.2ZM1070.6,1051.9 1073.6,1050.1 1074.6,1049.7 1081.6,1049.7 1081.6,1056.9 1077.6,1059.1 1070.6,1059.1ZM1084.4,1047.3 1095.4,1047 1095.4,1054.2 1084.4,1054.5ZM1098.2,1047.5 1105.2,1047.5 1109.2,1048.4 1109.2,1055.6 1102.2,1055.6 1098.2,1054.7ZM1112,1051.7 1119,1051.7 1122,1052.8 1123,1053.3 1123,1060.5 1116,1060.5 1112,1058.9ZM1125.2,1062.4 1131.7,1062.4 1132.6,1062.6 1135.4,1066.2 1135.4,1073.4 1128.9,1073.4 1128,1073.2 1125.2,1069.6ZM1135.6,1076.2 1142.1,1076.2 1143,1076.5 1145.8,1080 1145.8,1087.2 1139.3,1087.2 1138.4,1086.9 1135.6,1083.4ZM1147.6,1090 1154.2,1090 1155.1,1090.4 1158,1093.8 1158,1101 1151.3,1101 1150.4,1100.5 1147.6,1097.2ZM1157.5,1103.8 1163.8,1103.8 1164.7,1103.9 1166.6,1107.6 1166.6,1114.8 1160.2,1114.8 1159.3,1114.7 1157.5,1111ZM1164.1,1117.6 1170.6,1117.6 1171.6,1118.1 1173.4,1121.4 1173.4,1128.6 1166.9,1128.6 1166,1128.2 1164.1,1124.8ZM1174.4,1131.4 1181.3,1131.4 1185.3,1135.2 1185.3,1142.4 1178.4,1142.4 1174.4,1138.6ZM1186.9,1145.2 1193.4,1145.2 1194.3,1145.5 1197.1,1149 1197.1,1156.2 1190.6,1156.2 1189.7,1155.9 1186.9,1152.4ZM1197.3,1159 1204.2,1159 1205.2,1159.9 1207.1,1162.8 1207.1,1170 1200.3,1170 1199.3,1169 1197.3,1166.2ZM1206.4,1172.8 1213.3,1172.8 1214.3,1173.8 1216.2,1176.6 1216.2,1183.8 1209.4,1183.8 1208.4,1182.9 1206.4,1180ZM1216.6,1186.6 1223.1,1186.6 1224,1186.9 1226.8,1190.4 1226.8,1197.6 1220.3,1197.6 1219.4,1197.3 1216.6,1193.8ZM1228.5,1200.4 1235.5,1200.4 1239.5,1204 1239.5,1211.2 1232.5,1211.2 1228.5,1207.6ZM1242.2,1213.5 1248.9,1213.5 1249.9,1214.1 1252.8,1217.3 1252.8,1224.5 1246,1224.5 1245.1,1224 1242.2,1220.7ZM1254.7,1227.3 1261.7,1227.3 1265.7,1230.7 1265.7,1237.9 1258.7,1237.9 1255.7,1235.5 1254.7,1234.5ZM1268.5,1238.3 1275.5,1238.3 1279.5,1241.4 1279.5,1248.6 1272.5,1248.6 1268.5,1245.5ZM1282.3,1249.4 1289.3,1249.4 1293.3,1251.6 1293.3,1258.8 1286.3,1258.8 1283.3,1257.3 1282.3,1256.6ZM1296.1,1255.2 1303.1,1255.2 1307.1,1256.6 1307.1,1263.8 1300.1,1263.8 1296.1,1262.4ZM1309.9,1263 1316.9,1263 1320.9,1266.1 1320.9,1273.3 1313.9,1273.3 1309.9,1270.2ZM1323.7,1272.3 1330.7,1272.3 1334.7,1274 1334.7,1281.2 1327.7,1281.2 1323.7,1279.5ZM1337.5,1277.8 1344.5,1277.8 1348.5,1279 1348.5,1286.2 1341.5,1286.2 1337.5,1285ZM1351.3,1281.8 1358.3,1281.8 1362.3,1282.7 1362.3,1289.9 1355.3,1289.9 1351.3,1289ZM1365.1,1284.9 1372.1,1284.9 1376.1,1285.7 1376.1,1292.9 1369.1,1292.9 1365.1,1292.1ZM1378.9,1287.6 1385.9,1287.6 1389.9,1288.2 1389.9,1295.4 1382.9,1295.4 1378.9,1294.8ZM1392.7,1289.8 1399.7,1289.8 1403.7,1290.4 1403.7,1297.6 1396.7,1297.6 1392.7,1297ZM1406.5,1291.9 1413.5,1291.9 1417.5,1292.5 1417.5,1299.7 1410.5,1299.7 1406.5,1299.1ZM1420.3,1293.5 1427.3,1293.5 1431.3,1293.8 1431.3,1301 1423.3,1300.9 1420.3,1300.7ZM1434.1,1294.2 1445.1,1294.3 1445.1,1301.5 1434.1,1301.4ZM1447.9,1294.6 1458.9,1294.7 1458.9,1301.9 1447.9,1301.8Z" fill="#d87990" clip-path="url(#cbot)"/>
<path d="M307.2,559.9 540,559.9 543,560.2 550,562.4 560,563.1 584,563.6 592,564.1 600,565.5 615.9,569.2 647.9,578.3 666.9,584.2 676.9,587.7 682.9,590.3 689.9,594 701.9,601.2 715.9,608.7 721.8,612.4 727.8,616.7 740.8,627.6 750.8,636.8 761.8,647.2 770.8,654.8 773.8,657.7 775.8,660 779.8,666.2 779.8,673.8 772.8,673.8 771.8,673.2 768.8,668.4 765.8,664.9 761.8,661.2 754.8,655.4 737.8,639.3 725.8,628.9 718.9,623.2 712.9,619.1 703.9,613.9 693.9,608.5 680.9,600.8 674.9,597.7 665.9,594.1 644.9,587.3 612.9,578.1 594,573.4 587,572.1 579,571.3 551,570.6 544,570.3 541,569.6 536,567.9 533,567.5 307.2,567.5Z" fill="#806c14" clip-path="url(#ctop)"/>
<path d="M847.7,716.2 854.7,716.2 855.7,720.4 856.7,732.6 857.7,745.1 858.7,751.5 859.7,756.3 861.7,764 863.7,771 866.7,780.6 869.7,790.8 871.7,797 874.7,805.7 877.7,813.7 881.7,823.5 883.6,828.8 886.6,837.7 888.6,842.8 893.6,852.6 895.6,857.1 899.6,867.4 901.6,872 905.6,879.8 907.6,884.1 910.6,891.3 913.6,899.2 918.6,914.4 921.6,922.5 924.6,930 927.6,936.8 934.6,951.1 938.6,959.9 950.6,988.2 953.5,995.8 955.5,1001.5 959.5,1013.6 966.5,1033.1 970.5,1044.8 980.5,1075 984.5,1087.5 986.5,1093 988.5,1097.3 992.5,1104.8 994.5,1109 996.5,1113.9 1000.5,1124.9 1002.5,1129.8 1005.5,1136.1 1015.5,1155.1 1023.4,1169.8 1027.4,1177.3 1029.4,1180.7 1033.4,1186.2 1038.4,1192.3 1044.4,1198.8 1052.4,1206.7 1059.4,1213.1 1066.4,1218.7 1076.4,1225.8 1084.4,1230.9 1091.3,1234.8 1098.3,1237.8 1126.3,1247.2 1138.3,1250.8 1150.3,1253.6 1164.2,1256.2 1180.2,1258.2 1217.2,1261.2 1238.1,1262.5 1286.1,1263.7 1467.8,1266.2 1467.8,1273.8 1347,1272.3 1270.1,1271.1 1234.1,1270.2 1211.2,1268.9 1181.2,1266.6 1163.2,1264.7 1149.3,1262.5 1136.3,1259.9 1125.3,1256.9 1095.3,1247.1 1088.4,1244.5 1081.4,1241.1 1073.4,1236.5 1063.4,1229.7 1056.4,1224.5 1049.4,1218.6 1041.4,1211 1034.4,1203.9 1029.4,1198.3 1025.4,1193.3 1022.4,1189.2 1020.4,1186 1006.5,1160.1 998.5,1144.9 995.5,1138.7 993.5,1134.1 988.5,1120.5 986.5,1115.7 983.5,1109.9 980.5,1104.2 978.5,1099.6 976.5,1093.9 972.5,1081.5 962.5,1051.2 959.5,1042.4 953.5,1025.8 950.6,1017.1 947.6,1007.9 945.6,1002.3 942.6,994.9 932.6,971.2 928.6,962.1 920.6,945.7 917.6,939 914.6,931.7 911.6,923.7 906.6,908.6 903.6,900.5 900.6,893.1 898.6,888.6 894.6,880.8 892.6,876.5 888.6,866.2 886.6,861.4 881.7,851.7 879.7,847 875.7,835.3 872.7,827.6 869.7,820.3 866.7,812.2 863.7,803.5 861.7,797.1 858.7,786.9 855.7,777.3 854.7,773.9 852.7,766.3 851.7,762.2 850.7,756.9 849.7,749 848.7,734.8 847.7,723.8Z" fill="#806c14" clip-path="url(#cbot)"/>
<path d="M338,1304.2 359,1304.2 359,1311.8 338,1311.8ZM365,1304.2 426,1304.2 426,1311.8 365,1311.8ZM446,1304.2 467,1304.2 467,1311.8 446,1311.8ZM473,1304.2 534,1304.2 534,1311.8 473,1311.8ZM554,1304.2 575,1304.2 575,1311.8 554,1311.8ZM581,1304.2 642,1304.2 642,1311.8 581,1311.8ZM662,1304.2 683,1304.2 683,1311.8 662,1311.8ZM689,1304.2 750,1304.2 750,1311.8 689,1311.8ZM770,1304.2 785.8,1304.2 785.8,1311.8 770,1311.8Z" fill="#ffd83c" clip-path="url(#cbot)"/>
<path d="M778.2,1304.2 789.1,1301 794.1,1299.2 798.1,1297.1 810,1289 823.9,1280.2 830.8,1276.4 843.8,1270.5 853.7,1265.1 859.6,1261.4 863.6,1258.3 866.6,1255.4 870.6,1250.4 875.5,1243.7 879.5,1237.2 881.5,1234.4 883.5,1232.8 887.5,1230.7 891.4,1229.2 894.4,1228.7 902.4,1228.7 904.3,1229 910.3,1231.7 910.3,1239.3 903.3,1239.3 901.4,1238.7 898.4,1237.3 897.4,1237.3 893.4,1239.1 890.4,1240.8 888.4,1242.8 886.5,1245.8 883.5,1250.7 877.5,1258.9 874.5,1262.6 871.6,1265.6 866.6,1269.4 859.6,1273.7 851.7,1277.9 839.8,1283.3 832.8,1287.1 817.9,1296.4 808,1303.2 804,1305.6 799.1,1307.8 786.1,1311.7 778.2,1311.8Z" fill="#ffd83c" clip-path="url(#cbot)"/>
<path d="M925.7,1268.2 932.4,1268.2 933.4,1268.8 934.3,1276.6 934.3,1284.2 927.6,1284.2 926.7,1283.8 925.7,1275.8ZM931.5,1290.2 938.4,1290.2 939.4,1290.6 942.4,1293.4 945.4,1295.4 950.4,1297.4 957.4,1299.4 964.4,1300.8 980.4,1301.7 992.3,1302.1 992.3,1309.7 974.4,1309.4 960.4,1308.7 954.4,1308 947.4,1306.4 941.4,1304.5 937.4,1302.8 934.4,1300.7 932.4,1298.9 931.5,1297.8ZM1012.3,1302.2 1033.3,1302.2 1033.3,1309.8 1012.3,1309.8ZM1039.3,1302.2 1100.3,1302.1 1100.3,1309.7 1039.3,1309.8ZM1120.3,1302 1141.3,1301.9 1141.3,1309.5 1120.3,1309.6ZM1147.3,1301.8 1201.3,1301.4 1208.3,1301.4 1208.3,1309 1154.3,1309.4 1147.3,1309.4ZM1228.3,1301.2 1242.3,1300.4 1249.3,1300.4 1249.3,1308 1237.3,1308.7 1228.3,1308.8ZM1255.3,1299.2 1286.3,1296.2 1301.3,1294.3 1308.3,1293.1 1316.3,1293 1316.3,1300.6 1304.3,1302.6 1283.3,1304.9 1263.3,1306.7 1255.3,1306.8ZM1336.3,1280.1 1343.3,1275 1345.3,1273.9 1347.3,1273.3 1356.3,1273.2 1357.3,1273.3 1357.3,1280.9 1354.3,1281 1352.3,1281.8 1348.3,1284.5 1344.3,1287.5 1336.3,1287.7ZM1363.3,1277.1 1370.3,1277.1 1373.3,1278 1380.3,1281.7 1387.3,1285.5 1397.3,1289.8 1411.3,1294.8 1419.3,1297.2 1424.3,1298.3 1424.3,1305.9 1417.3,1305.9 1411.3,1304.7 1399.3,1300.9 1389.3,1297.2 1380.3,1293.4 1368.3,1286.9 1364.3,1285.1 1363.3,1284.7ZM1444.3,1301.6 1465.3,1302.1 1465.3,1309.7 1445.3,1309.3 1444.3,1309.2Z" fill="#ffd83c" clip-path="url(#cbot)"/>
<path d="M315.0,665.0 L315.0,86.0 M313.0,90.0 L1466.0,90.0 M1464.0,86.0 L1464.0,665.0" stroke="#000" stroke-width="4.2" fill="none"/>
<path d="M315.0,728.6 L315.0,1309.8 M313.0,1307.8 L1466.0,1307.8 M1464.0,728.6 L1464.0,1309.8" stroke="#000" stroke-width="4.2" fill="none"/>
<line x1="315.0" y1="235.5" x2="341.0" y2="235.5" stroke="#000" stroke-width="4.2"/>
<line x1="1438.0" y1="235.5" x2="1464.0" y2="235.5" stroke="#000" stroke-width="4.2"/>
<line x1="315.0" y1="377.0" x2="341.0" y2="377.0" stroke="#000" stroke-width="4.2"/>
<line x1="1438.0" y1="377.0" x2="1464.0" y2="377.0" stroke="#000" stroke-width="4.2"/>
<line x1="315.0" y1="523.0" x2="341.0" y2="523.0" stroke="#000" stroke-width="4.2"/>
<line x1="1438.0" y1="523.0" x2="1464.0" y2="523.0" stroke="#000" stroke-width="4.2"/>
<line x1="315.0" y1="665.0" x2="341.0" y2="665.0" stroke="#000" stroke-width="4.2"/>
<line x1="1438.0" y1="665.0" x2="1464.0" y2="665.0" stroke="#000" stroke-width="4.2"/>
<line x1="315.0" y1="732.6" x2="341.0" y2="732.6" stroke="#000" stroke-width="4.2"/>
<line x1="1438.0" y1="732.6" x2="1464.0" y2="732.6" stroke="#000" stroke-width="4.2"/>
<line x1="315.0" y1="847.8" x2="341.0" y2="847.8" stroke="#000" stroke-width="4.2"/>
<line x1="1438.0" y1="847.8" x2="1464.0" y2="847.8" stroke="#000" stroke-width="4.2"/>
<line x1="315.0" y1="963.0" x2="341.0" y2="963.0" stroke="#000" stroke-width="4.2"/>
<line x1="1438.0" y1="963.0" x2="1464.0" y2="963.0" stroke="#000" stroke-width="4.2"/>
<line x1="315.0" y1="1078.0" x2="341.0" y2="1078.0" stroke="#000" stroke-width="4.2"/>
<line x1="1438.0" y1="1078.0" x2="1464.0" y2="1078.0" stroke="#000" stroke-width="4.2"/>
<line x1="315.0" y1="1193.0" x2="341.0" y2="1193.0" stroke="#000" stroke-width="4.2"/>
<line x1="1438.0" y1="1193.0" x2="1464.0" y2="1193.0" stroke="#000" stroke-width="4.2"/>
<line x1="506.5" y1="90.0" x2="506.5" y2="118.0" stroke="#000" stroke-width="4.2"/>
<line x1="506.5" y1="1307.8" x2="506.5" y2="1279.8" stroke="#000" stroke-width="4.2"/>
<line x1="698.0" y1="90.0" x2="698.0" y2="118.0" stroke="#000" stroke-width="4.2"/>
<line x1="698.0" y1="1307.8" x2="698.0" y2="1279.8" stroke="#000" stroke-width="4.2"/>
<line x1="889.5" y1="90.0" x2="889.5" y2="118.0" stroke="#000" stroke-width="4.2"/>
<line x1="889.5" y1="1307.8" x2="889.5" y2="1279.8" stroke="#000" stroke-width="4.2"/>
<line x1="1081.0" y1="90.0" x2="1081.0" y2="118.0" stroke="#000" stroke-width="4.2"/>
<line x1="1081.0" y1="1307.8" x2="1081.0" y2="1279.8" stroke="#000" stroke-width="4.2"/>
<line x1="1272.5" y1="90.0" x2="1272.5" y2="118.0" stroke="#000" stroke-width="4.2"/>
<line x1="1272.5" y1="1307.8" x2="1272.5" y2="1279.8" stroke="#000" stroke-width="4.2"/>
<circle cx="430.0" cy="164.0" r="16.9" fill="none" stroke="#000000" stroke-width="3.8"/>
<circle cx="661.5" cy="164.0" r="16.9" fill="none" stroke="#000000" stroke-width="3.8"/>
<circle cx="889.7" cy="180.4" r="16.9" fill="none" stroke="#000000" stroke-width="3.8"/>
<circle cx="1118.3" cy="213.6" r="16.9" fill="none" stroke="#000000" stroke-width="3.8"/>
<circle cx="1349.7" cy="235.6" r="16.9" fill="none" stroke="#000000" stroke-width="3.8"/>
<rect x="412.8" y="898.0" width="34.5" height="34.5" fill="none" stroke="#c00000" stroke-width="4"/>
<rect x="644.2" y="901.8" width="34.5" height="34.5" fill="none" stroke="#c00000" stroke-width="4"/>
<rect x="872.5" y="953.2" width="34.5" height="34.5" fill="none" stroke="#c00000" stroke-width="4"/>
<rect x="1101.0" y="1047.2" width="34.5" height="34.5" fill="none" stroke="#c00000" stroke-width="4"/>
<rect x="1332.5" y="1119.2" width="34.5" height="34.5" fill="none" stroke="#c00000" stroke-width="4"/>
<path d="M430.0,1276.2 L444.8,1291.0 L430.0,1305.8 L415.2,1291.0 Z" fill="none" stroke="#0000d2" stroke-width="5" stroke-linejoin="miter"/>
<path d="M661.5,1276.2 L676.2,1291.0 L661.5,1305.8 L646.8,1291.0 Z" fill="none" stroke="#0000d2" stroke-width="5" stroke-linejoin="miter"/>
<path d="M889.7,1276.2 L904.5,1291.0 L889.7,1305.8 L875.0,1291.0 Z" fill="none" stroke="#0000d2" stroke-width="5" stroke-linejoin="miter"/>
<path d="M1118.3,1276.0 L1133.0,1290.7 L1118.3,1305.5 L1103.5,1290.7 Z" fill="none" stroke="#0000d2" stroke-width="5" stroke-linejoin="miter"/>
<path d="M1349.7,1276.2 L1364.5,1291.0 L1349.7,1305.8 L1335.0,1291.0 Z" fill="none" stroke="#0000d2" stroke-width="5" stroke-linejoin="miter"/>
<path d="M412.0,1287.0 L448.0,1323.0 M448.0,1287.0 L412.0,1323.0" stroke="#066019" stroke-width="4.2" fill="none"/>
<path d="M643.5,1287.0 L679.5,1323.0 M679.5,1287.0 L643.5,1323.0" stroke="#066019" stroke-width="4.2" fill="none"/>
<path d="M871.7,1246.5 L907.7,1282.5 M907.7,1246.5 L871.7,1282.5" stroke="#066019" stroke-width="4.2" fill="none"/>
<path d="M1100.3,1192.5 L1136.3,1228.5 M1136.3,1192.5 L1100.3,1228.5" stroke="#066019" stroke-width="4.2" fill="none"/>
<path d="M1331.7,1140.0 L1367.7,1176.0 M1367.7,1140.0 L1331.7,1176.0" stroke="#066019" stroke-width="4.2" fill="none"/>
<path d="M411.0,1306.0 L449.0,1306.0 M430.0,1287.0 L430.0,1325.0" stroke="#f0680e" stroke-width="4.2" fill="none"/>
<path d="M642.5,1306.0 L680.5,1306.0 M661.5,1287.0 L661.5,1325.0" stroke="#f0680e" stroke-width="4.2" fill="none"/>
<path d="M870.7,1261.0 L908.7,1261.0 M889.7,1242.0 L889.7,1280.0" stroke="#f0680e" stroke-width="4.2" fill="none"/>
<path d="M1099.3,1211.0 L1137.3,1211.0 M1118.3,1192.0 L1118.3,1230.0" stroke="#f0680e" stroke-width="4.2" fill="none"/>
<path d="M1330.7,1160.0 L1368.7,1160.0 M1349.7,1141.0 L1349.7,1179.0" stroke="#f0680e" stroke-width="4.2" fill="none"/>
<path d="M430.0,1293.8 L444.7,1317.9 L415.3,1317.9 Z" fill="none" stroke="#f0078a" stroke-width="4.2" stroke-linejoin="miter"/>
<path d="M661.5,1215.3 L676.2,1239.4 L646.8,1239.4 Z" fill="none" stroke="#f0078a" stroke-width="4.2" stroke-linejoin="miter"/>
<path d="M889.7,1251.8 L904.4,1275.9 L875.0,1275.9 Z" fill="none" stroke="#f0078a" stroke-width="4.2" stroke-linejoin="miter"/>
<path d="M1118.3,1157.3 L1133.0,1181.4 L1103.6,1181.4 Z" fill="none" stroke="#f0078a" stroke-width="4.2" stroke-linejoin="miter"/>
<path d="M1349.7,1252.8 L1364.4,1276.9 L1335.0,1276.9 Z" fill="none" stroke="#f0078a" stroke-width="4.2" stroke-linejoin="miter"/>
<circle cx="430.0" cy="1307.0" r="19.5" fill="#03aeea"/>
<circle cx="661.5" cy="1278.0" r="19.5" fill="#03aeea"/>
<circle cx="889.7" cy="1292.0" r="19.5" fill="#03aeea"/>
<circle cx="1118.3" cy="1260.0" r="19.5" fill="#03aeea"/>
<circle cx="1349.7" cy="1297.0" r="19.5" fill="#03aeea"/>
<rect x="410.5" y="1289.5" width="41" height="41" fill="#545557"/>
<rect x="641.5" y="1285.0" width="41" height="41" fill="#545557"/>
<rect x="870.0" y="1275.1" width="41" height="41" fill="#545557"/>
<rect x="1098.0" y="859.1" width="41" height="41" fill="#545557"/>
<rect x="1331.2" y="1171.1" width="41" height="41" fill="#545557"/>
<path d="M430.0,1289.0 L448.0,1308.0 L430.0,1327.0 L412.0,1308.0 Z" fill="#a2a2a2"/>
<path d="M661.5,1289.0 L679.5,1308.0 L661.5,1327.0 L643.5,1308.0 Z" fill="#a2a2a2"/>
<path d="M889.7,1286.0 L907.7,1305.0 L889.7,1324.0 L871.7,1305.0 Z" fill="#a2a2a2"/>
<path d="M1118.3,1258.8 L1136.3,1277.8 L1118.3,1296.8 L1100.3,1277.8 Z" fill="#a2a2a2"/>
<path d="M1349.7,1289.4 L1367.7,1308.4 L1349.7,1327.4 L1331.7,1308.4 Z" fill="#a2a2a2"/>
<path d="M430.0,1292.9 L449.0,1323.9 L411.0,1323.9 Z" fill="#d87990"/>
<path d="M661.5,1278.9 L680.5,1309.9 L642.5,1309.9 Z" fill="#d87990"/>
<path d="M889.7,1285.5 L908.7,1316.5 L870.7,1316.5 Z" fill="#d87990"/>
<path d="M1118.3,1048.5 L1137.3,1079.5 L1099.3,1079.5 Z" fill="#d87990"/>
<path d="M1349.7,1265.1 L1368.7,1296.1 L1330.7,1296.1 Z" fill="#d87990"/>
<rect x="339" y="266" width="443" height="229" fill="#fff" stroke="#000" stroke-width="4.5"/>
<line x1="361" y1="309.6" x2="482.5" y2="309.6" stroke="#000000" stroke-width="7.4"/>
<circle cx="422.2" cy="309.6" r="16.4" fill="none" stroke="#000000" stroke-width="3.8"/>
<line x1="556" y1="309.6" x2="677.4" y2="309.6" stroke="#066019" stroke-width="7" stroke-dasharray="18 9"/>
<path d="M600.3,292.1 L635.3,327.1 M635.3,292.1 L600.3,327.1" stroke="#066019" stroke-width="4.2" fill="none"/>
<line x1="388.3" y1="381" x2="477" y2="381" stroke="#c00000" stroke-width="7" stroke-dasharray="21 6 61 20"/>
<rect x="405.4" y="364.2" width="34.0" height="34.0" fill="none" stroke="#c00000" stroke-width="4"/>
<line x1="556" y1="381" x2="676" y2="381" stroke="#f0680e" stroke-width="7" stroke-dasharray="11 16"/>
<path d="M599.5,382.5 L638.0,382.5 M618.8,363.2 L618.8,401.8" stroke="#f0680e" stroke-width="4.2" fill="none"/>
<line x1="388.3" y1="452.3" x2="477" y2="452.3" stroke="#0000d2" stroke-width="7.6" stroke-dasharray="35 18.5"/>
<path d="M423.0,437.4 L437.2,451.6 L423.0,465.9 L408.8,451.6 Z" fill="none" stroke="#0000d2" stroke-width="5" stroke-linejoin="miter"/>
<rect x="876.5" y="316.6" width="536.5" height="276" fill="#fff" stroke="#000" stroke-width="4.5"/>
<path d="M899,360.4 L910,360.4 M946,360.4 L1017,360.4" stroke="#f0078a" stroke-width="7" fill="none"/>
<path d="M959.7,348.6 L974.4,373.7 L945.0,373.7 Z" fill="none" stroke="#f0078a" stroke-width="4.2" stroke-linejoin="miter"/>
<line x1="1154" y1="360.4" x2="1272.6" y2="360.4" stroke="#d87990" stroke-width="7" stroke-dasharray="11 2.8"/>
<path d="M1215.4,344.9 L1234.4,375.4 L1196.4,375.4 Z" fill="#d87990"/>
<path d="M906,407.8 L916,407.8 M926,407.8 L1004,407.8" stroke="#03aeea" stroke-width="8.5" fill="none"/>
<circle cx="960.5" cy="408.6" r="20" fill="#03aeea"/>
<line x1="1154" y1="407.8" x2="1275.6" y2="407.8" stroke="#806c14" stroke-width="8.8"/>
<path d="M908.5,479 L919,479 M929,479 L940,479 M982,479 L1013.8,479" stroke="#545557" stroke-width="7.5" fill="none"/>
<rect x="940.6" y="458.5" width="42" height="42" fill="#545557"/>
<path d="M1180.7,479 L1200.6,479 M1208,479 L1268.8,479" stroke="#ffd83c" stroke-width="7.5" fill="none"/>
<line x1="908.5" y1="549.6" x2="1011" y2="549.6" stroke="#a2a2a2" stroke-width="7.5" stroke-dasharray="14 4"/>
<path d="M959.4,531.0 L978.2,549.5 L959.4,568.0 L940.6,549.5 Z" fill="#a2a2a2"/>
<text x="492.3" y="323.27" font-size="40.5" text-anchor="start" fill="#000000" transform="scale(1,1.01)">N</text>
<text x="522.2" y="348.80" font-size="26.5" text-anchor="start" fill="#000000">2</text>
<text x="687.7" y="323.07" font-size="40.5" text-anchor="start" fill="#066019" transform="scale(1,1.01)">CO</text>
<text x="748.1" y="348.80" font-size="26.5" text-anchor="start" fill="#066019">2</text>
<text x="493.1" y="392.67" font-size="40.5" text-anchor="start" fill="#c00000" transform="scale(1,1.01)">O</text>
<text x="522.2" y="422.30" font-size="26.5" text-anchor="start" fill="#c00000">2</text>
<text x="687.7" y="392.67" font-size="40.5" text-anchor="start" fill="#f0680e" transform="scale(1,1.01)">H</text>
<text x="716.7" y="422.30" font-size="26.5" text-anchor="start" fill="#f0680e">2</text>
<text x="732.1" y="392.67" font-size="40.5" text-anchor="start" fill="#f0680e" transform="scale(1,1.01)">O</text>
<text x="492.9" y="463.76" font-size="40.5" text-anchor="start" fill="#0000d2" transform="scale(1,1.01)">Ar</text>
<text x="1030.4" y="371.68" font-size="40.5" text-anchor="start" fill="#f0078a" transform="scale(1,1.01)">CO</text>
<text x="1286.1" y="371.68" font-size="40.5" text-anchor="start" fill="#d87990" transform="scale(1,1.01)">O</text>
<text x="1030.7" y="419.80" font-size="40.5" text-anchor="start" fill="#03aeea" transform="scale(1,1.01)">H</text>
<text x="1060.7" y="447.90" font-size="26.5" text-anchor="start" fill="#03aeea">2</text>
<text x="1286.0" y="419.80" font-size="40.5" text-anchor="start" fill="#806c14" transform="scale(1,1.01)">fuel</text>
<text x="1352.9" y="447.70" font-size="27" text-anchor="start" fill="#806c14" letter-spacing="0.8">gas</text>
<text x="1030.6" y="490.40" font-size="40.5" text-anchor="start" fill="#545557" transform="scale(1,1.01)">OH</text>
<text x="1286.8" y="490.40" font-size="40.5" text-anchor="start" fill="#ffd83c" transform="scale(1,1.01)">fuel</text>
<text x="1353.0" y="519.80" font-size="27" text-anchor="start" fill="#ffd83c" letter-spacing="0.5">liq</text>
<text x="1030.7" y="560.89" font-size="40.5" text-anchor="start" fill="#a2a2a2" transform="scale(1,1.01)">H</text>
<text x="283.3" y="99.04" font-size="60" text-anchor="end" fill="#000" transform="scale(1,1.04)">0.80</text>
<text x="283.3" y="238.94" font-size="60" text-anchor="end" fill="#000" transform="scale(1,1.04)">0.75</text>
<text x="283.3" y="375.00" font-size="60" text-anchor="end" fill="#000" transform="scale(1,1.04)">0.70</text>
<text x="283.3" y="515.38" font-size="60" text-anchor="end" fill="#000" transform="scale(1,1.04)">0.65</text>
<text x="283.3" y="651.92" font-size="60" text-anchor="end" fill="#000" transform="scale(1,1.04)">0.60</text>
<text x="283.3" y="716.92" font-size="60" text-anchor="end" fill="#000" transform="scale(1,1.04)">0.30</text>
<text x="283.3" y="827.69" font-size="60" text-anchor="end" fill="#000" transform="scale(1,1.04)">0.24</text>
<text x="283.3" y="938.46" font-size="60" text-anchor="end" fill="#000" transform="scale(1,1.04)">0.18</text>
<text x="283.3" y="1049.04" font-size="60" text-anchor="end" fill="#000" transform="scale(1,1.04)">0.12</text>
<text x="283.3" y="1159.62" font-size="60" text-anchor="end" fill="#000" transform="scale(1,1.04)">0.06</text>
<text x="283.3" y="1270.00" font-size="60" text-anchor="end" fill="#000" transform="scale(1,1.04)">0.00</text>
<text x="1494.2" y="99.04" font-size="60" text-anchor="start" fill="#000" transform="scale(1,1.04)">0.0200</text>
<text x="1494.2" y="238.94" font-size="60" text-anchor="start" fill="#000" transform="scale(1,1.04)">0.0160</text>
<text x="1494.2" y="375.00" font-size="60" text-anchor="start" fill="#000" transform="scale(1,1.04)">0.0120</text>
<text x="1494.2" y="515.38" font-size="60" text-anchor="start" fill="#000" transform="scale(1,1.04)">0.0080</text>
<text x="1494.2" y="651.92" font-size="60" text-anchor="start" fill="#000" transform="scale(1,1.04)">0.0040</text>
<text x="1494.2" y="716.92" font-size="60" text-anchor="start" fill="#000" transform="scale(1,1.04)">0.0020</text>
<text x="1494.2" y="827.69" font-size="60" text-anchor="start" fill="#000" transform="scale(1,1.04)">0.0016</text>
<text x="1494.2" y="938.46" font-size="60" text-anchor="start" fill="#000" transform="scale(1,1.04)">0.0012</text>
<text x="1494.2" y="1049.04" font-size="60" text-anchor="start" fill="#000" transform="scale(1,1.04)">0.0008</text>
<text x="1494.2" y="1159.62" font-size="60" text-anchor="start" fill="#000" transform="scale(1,1.04)">0.0004</text>
<text x="1494.2" y="1270.00" font-size="60" text-anchor="start" fill="#000" transform="scale(1,1.04)">0.0000</text>
<text x="314.0" y="1349.23" font-size="60" text-anchor="middle" fill="#000" transform="scale(1,1.04)">–60</text>
<text x="505.5" y="1349.23" font-size="60" text-anchor="middle" fill="#000" transform="scale(1,1.04)">–40</text>
<text x="697.0" y="1349.23" font-size="60" text-anchor="middle" fill="#000" transform="scale(1,1.04)">–20</text>
<text x="889.5" y="1349.23" font-size="60" text-anchor="middle" fill="#000" transform="scale(1,1.04)">0</text>
<text x="1081.0" y="1349.23" font-size="60" text-anchor="middle" fill="#000" transform="scale(1,1.04)">20</text>
<text x="1272.5" y="1349.23" font-size="60" text-anchor="middle" fill="#000" transform="scale(1,1.04)">40</text>
<text x="1464.0" y="1349.23" font-size="60" text-anchor="middle" fill="#000" transform="scale(1,1.04)">60</text>
<text x="683.8" y="1424.13" font-size="60" text-anchor="start" fill="#000" transform="scale(1,1.04)" textLength="485.2" lengthAdjust="spacing">Crank Angle [deg]</text>
<text transform="translate(1763,394.0) rotate(90) scale(1,1.04)" font-size="60" fill="#000" textLength="638.9" lengthAdjust="spacing">Cylinder Mole Fractions</text>
<text transform="translate(110.3,1327.6) rotate(-90) scale(1,1.04)" font-size="60" fill="#000" textLength="721.8" lengthAdjust="spacing">Cylinder Mole Fractions: O</text>
<text transform="translate(144.1,609.2) rotate(-90) scale(1,1.04)" font-size="40" fill="#000">2</text>
<text transform="translate(110.3,584.2) rotate(-90) scale(1,1.04)" font-size="60" fill="#000">, N</text>
<text transform="translate(144.1,507.1) rotate(-90) scale(1,1.04)" font-size="40" fill="#000">2</text>
<text transform="translate(110.3,482.9) rotate(-90) scale(1,1.04)" font-size="60" fill="#000">,</text>
<text transform="translate(110.3,449.1) rotate(-90) scale(1,1.04)" font-size="60" fill="#000">Ar</text>
<text transform="translate(110.3,388.6) rotate(-90) scale(1,1.04)" font-size="60" fill="#000">,</text>
<text transform="translate(110.3,353.0) rotate(-90) scale(1,1.04)" font-size="60" fill="#000">CO</text>
<text transform="translate(144.1,262.5) rotate(-90) scale(1,1.04)" font-size="40" fill="#000">2</text>
<text transform="translate(110.3,240.9) rotate(-90) scale(1,1.04)" font-size="60" fill="#000">,</text>
<text transform="translate(110.3,204.7) rotate(-90) scale(1,1.04)" font-size="60" fill="#000">H</text>
<text transform="translate(144.1,161.6) rotate(-90) scale(1,1.04)" font-size="40" fill="#000">2</text>
<text transform="translate(110.3,136.2) rotate(-90) scale(1,1.04)" font-size="60" fill="#000">O</text>
</svg></body></html>
